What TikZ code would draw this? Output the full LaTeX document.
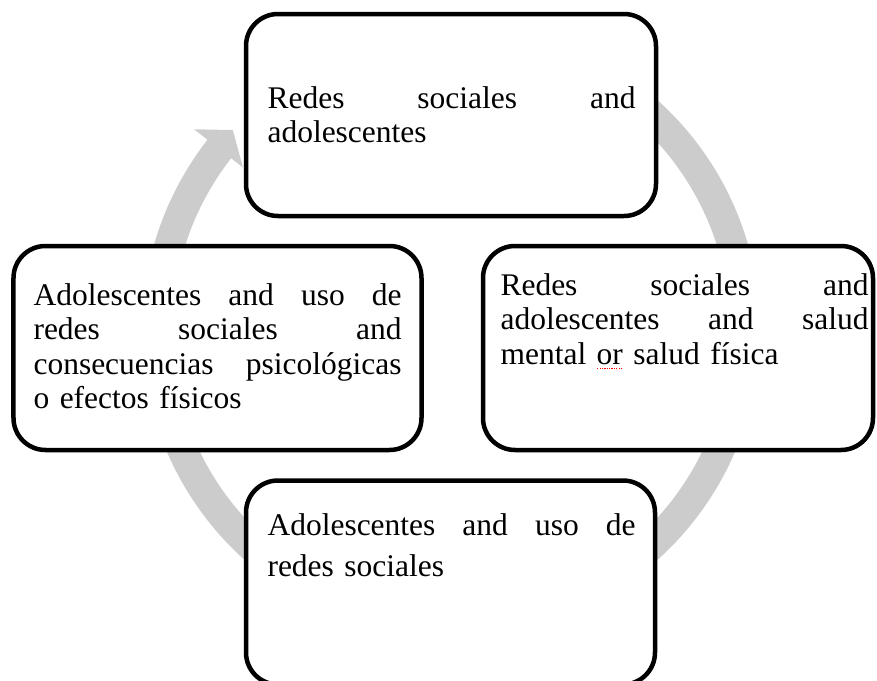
\documentclass[tikz,border=0pt]{standalone}
\usepackage{fontspec}
\setmainfont{Liberation Serif}
\usepackage{xcolor}

\newlength\px
\setlength\px{0.381pt}
\definecolor{ringgray}{RGB}{204,204,204}
\newcommand\spellmark[1]{\setbox0\hbox{#1}\rlap{\color{red}\raisebox{-2pt}{\hbox to\wd0{\leaders\hbox to 0.9pt{\hss\vrule width 0.45pt height 0.45pt\hss}\hfill}}}\box0\relax}

\begin{document}
\begin{tikzpicture}[x=0.381pt,y=0.381pt,
    box/.style={draw,line width=4.5\px,rounded corners=32\px,fill=white,inner sep=0pt},
    boxtext/.style={anchor=base west,inner sep=0pt,text width=368\px,align=left,font=\fontsize{12}{13.15}\selectfont},
    ring/.style={draw=ringgray,line width=30\px}]
    \clip (0,0) rectangle (877,-681);
    \coordinate (c) at (451,-330);
    \draw[ring] ([shift={(90:294)}]c) arc[start angle=90,end angle=-218.3,radius=294];
    \fill[ringgray] ([shift={(142:326)}]c) -- ([shift={(137.5:296)}]c) -- ([shift={(142:264)}]c) -- cycle;
    \node[box,minimum width=410\px,minimum height=202\px] (redes) at (451,-115) {};
    \node[box,minimum width=390\px,minimum height=204\px] (salud) at (678,-348) {};
    \node[box,minimum width=408\px,minimum height=204\px] (efectos) at (217.5,-348) {};
    \node[box,minimum width=409\px,minimum height=204\px] (uso) at (450.5,-582.5) {};
    \node[boxtext] (redes-t) at (267,-108) {Redes\hfill sociales\hfill and\\ adolescentes};
    \node[boxtext] (salud-t) at (500,-295) {Redes\hfill sociales\hfill and\\ adolescentes\hfill and\hfill salud\\ mental \spellmark{or} salud física};
    \node[boxtext] (efectos-t) at (33,-305) {Adolescentes\hfill and\hfill uso\hfill de\\ redes\hfill sociales\hfill and\\ consecuencias\hfill psicológicas\\ o efectos físicos};
    \node[boxtext,font=\fontsize{12}{16}\selectfont] (uso-t) at (267,-535) {Adolescentes\hfill and\hfill uso\hfill de\\ redes sociales};
\end{tikzpicture}
\end{document}
